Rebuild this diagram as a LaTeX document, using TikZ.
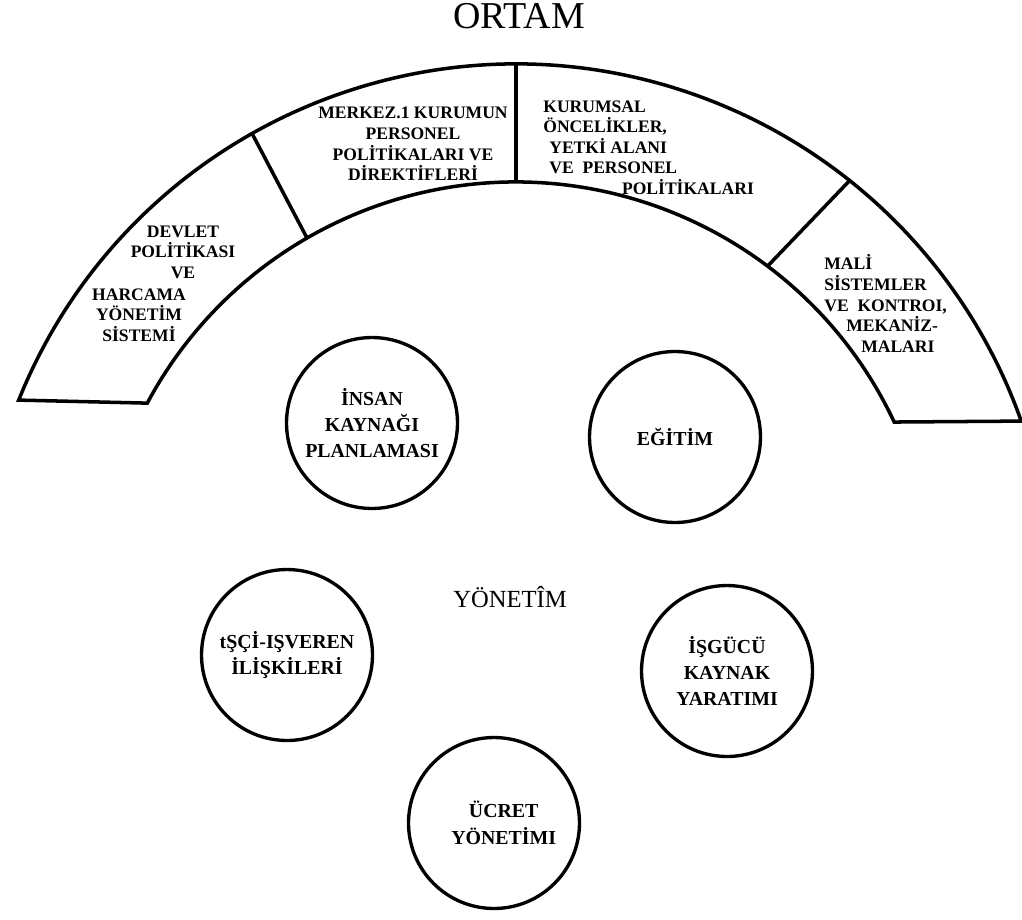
\documentclass[tikz,border=0pt]{standalone}
\usepackage{fontspec}
\setmainfont{Liberation Serif}

\begin{document}
\begin{tikzpicture}
[x=0.02cm,y=0.02cm,
band/.style={inner sep=0pt,font=\bfseries\fontsize{10}{11.7}\selectfont},
area/.style={circle,draw,line width=1.9pt,minimum size=3.42cm,inner sep=0pt,align=center,font=\bfseries\fontsize{11.3}{15}\selectfont},
title/.style={inner sep=0pt}]
\useasboundingbox (0,0) rectangle (1022,-920);
\coordinate (o) at (516,-600);
\begin{scope}[shift={(o)},line width=2pt]
\draw (158.1:536) arc[start angle=158.1,end angle=19.5,radius=536]
 -- (25.2:418) arc[start angle=25.2,end angle=151.9,radius=418] -- cycle;
\draw (119.5:536) -- (120:418);
\draw[line width=2.4pt] (90:536) -- (90:418);
\draw (51.5:536) -- (53:418);
\end{scope}
\node[title,font=\fontsize{21.6}{26}\selectfont] (ortam) at (519,-16) {ORTAM};
\node[band,align=center] (merkez) at (413,-144) {MERKEZ.1 KURUMUN\\PERSONEL\\POLİTİKALARI VE\\DİREKTİFLERİ};
\node[band,align=center] (devlet) at (183,-252) {DEVLET\\POLİTİKASI\\VE};
\node[band,align=center] (harcama) at (139,-315) {HARCAMA\\YÖNETİM\\SİSTEMİ};
\node[band,align=left,anchor=west] (kurumsal) at (543,-147.5) {KURUMSAL\\ÖNCELİKLER,\\\hspace*{3.4pt}YETKİ ALANI\\\hspace*{3.4pt}VE\hspace{0.5em}PERSONEL\\\hspace*{44.8pt}POLİTİKALARI};
\node[band,align=left,anchor=west] (mali) at (824,-303.5) {MALİ\\SİSTEMLER\\VE\hspace{0.5em}KONTROI,\\\hspace*{12.5pt}MEKANİZ-\\\hspace*{21pt}MALARI};
\node[area] (insan) at (372,-423) {İNSAN\\KAYNAĞI\\PLANLAMASI};
\node[area] (egitim) at (675,-437) {EĞİTİM};
\node[title,font=\fontsize{14}{17}\selectfont] (yonetim) at (510,-597) {YÖNETÎM};
\node[area] (isci) at (287,-655) {tŞÇİ-IŞVEREN\\İLİŞKİLERİ};
\node[area] (isgucu) at (727,-671) {İŞGÜCÜ\\KAYNAK\\YARATIMI};
\node[area] (ucret) at (494,-823) {\hspace*{11pt}ÜCRET\\\hspace*{11pt}YÖNETİMI};
\end{tikzpicture}
\end{document}
